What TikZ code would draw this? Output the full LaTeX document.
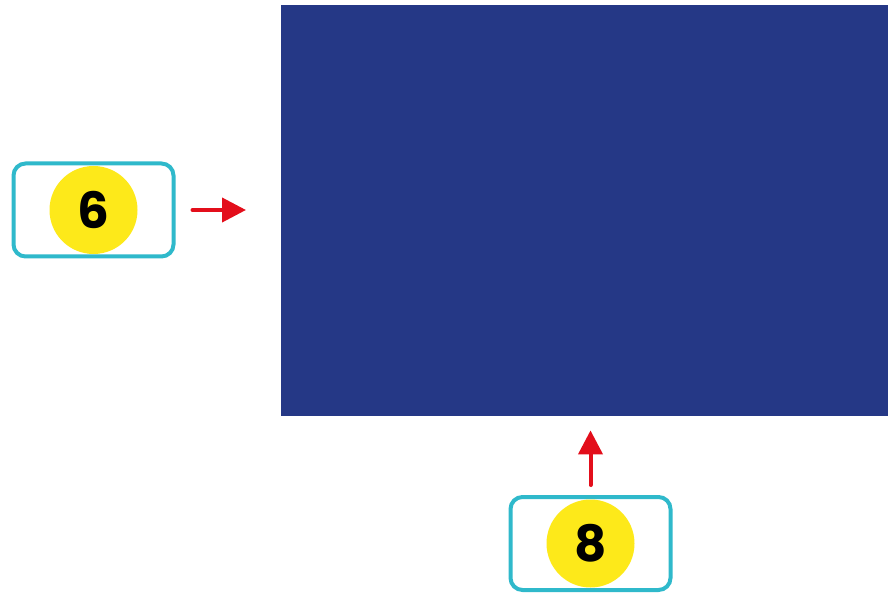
\documentclass[tikz,border=0pt]{standalone}
\usepackage{fontspec}
\setsansfont{Poppins}
\usetikzlibrary{positioning,arrows.meta}
\definecolor{areablue}{HTML}{253886}
\definecolor{tagcyan}{HTML}{2FB9CB}
\definecolor{tagyellow}{HTML}{FDE91A}
\definecolor{pointred}{HTML}{E30E1B}
\tikzset{
  tagbox/.style={draw=tagcyan, line width=4pt, rounded corners=12pt, fill=white,
    minimum width=160pt, minimum height=93pt, inner sep=0pt},
  tagdisc/.style={circle, fill=tagyellow, minimum size=88pt, inner sep=0pt,
    font=\sffamily\bfseries\fontsize{50}{50}\selectfont},
  pointer/.style={draw=pointred, line width=4pt, line cap=round,
    -{Triangle[length=24pt,width=24pt]}}
}

\begin{document}
\begin{tikzpicture}[x=1pt,y=-1pt]
        \useasboundingbox (0,0) rectangle (888,593);
        % blue area
        \node[fill=areablue, minimum width=607pt, minimum height=411pt, inner sep=0pt, anchor=north west] (area) at (281,5) {};
        % tag 6
        \node[tagbox] (box6) at (93.5,210) {};
        \node[tagdisc] (c6) at (box6.center) {6};
        % tag 8
        \node[tagbox] (box8) at (590.5,543.5) {};
        \node[tagdisc] (c8) at (box8.center) {8};
        % pointers
        \draw[pointer, shorten <=17pt, shorten >=35pt] (box6.east) -- (box6.east -| area.west);
        \draw[pointer, shorten <=10pt, shorten >=14pt] (box8.north) -- (box8.north |- area.south);
      \end{tikzpicture}
\end{document}
